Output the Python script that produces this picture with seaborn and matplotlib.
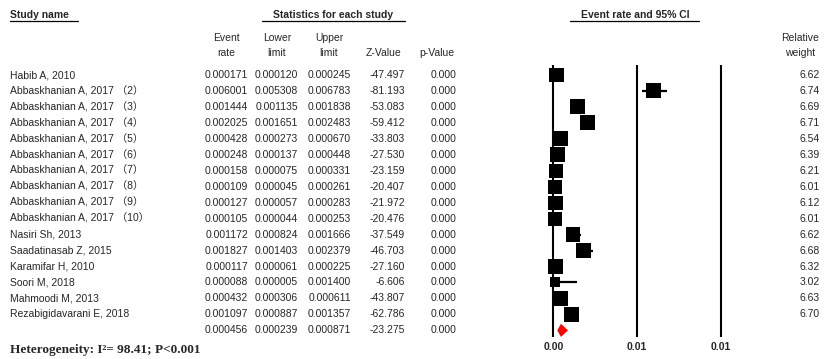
import matplotlib
matplotlib.use("Agg")
import matplotlib.pyplot as plt
import matplotlib.transforms as mtransforms
import pandas as pd
import seaborn as sns

# ---- study-level data ----
studies = [
    "Habib A, 2010",
    "Abbaskhanian A, 2017 （2）",
    "Abbaskhanian A, 2017 （3）",
    "Abbaskhanian A, 2017 （4）",
    "Abbaskhanian A, 2017 （5）",
    "Abbaskhanian A, 2017 （6）",
    "Abbaskhanian A, 2017 （7）",
    "Abbaskhanian A, 2017 （8）",
    "Abbaskhanian A, 2017 （9）",
    "Abbaskhanian A, 2017 （10）",
    "Nasiri Sh, 2013",
    "Saadatinasab Z, 2015",
    "Karamifar H, 2010",
    "Soori M, 2018",
    "Mahmoodi M, 2013",
    "Rezabigidavarani E, 2018",
]
event_rate = [0.000171, 0.006001, 0.001444, 0.002025, 0.000428, 0.000248,
              0.000158, 0.000109, 0.000127, 0.000105, 0.001172, 0.001827,
              0.000117, 0.000088, 0.000432, 0.001097]
lower_limit = [0.000120, 0.005308, 0.001135, 0.001651, 0.000273, 0.000137,
               0.000075, 0.000045, 0.000057, 0.000044, 0.000824, 0.001403,
               0.000061, 0.000005, 0.000306, 0.000887]
upper_limit = [0.000245, 0.006783, 0.001838, 0.002483, 0.000670, 0.000448,
               0.000331, 0.000261, 0.000283, 0.000253, 0.001666, 0.002379,
               0.000225, 0.001400, 0.000611, 0.001357]
z_value = [-47.497, -81.193, -53.083, -59.412, -33.803, -27.530, -23.159,
           -20.407, -21.972, -20.476, -37.549, -46.703, -27.160, -6.606,
           -43.807, -62.786]
p_value = [0.000] * 16
rel_weight = [6.62, 6.74, 6.69, 6.71, 6.54, 6.39, 6.21, 6.01, 6.12, 6.01,
              6.62, 6.68, 6.32, 3.02, 6.63, 6.70]

# pooled random-effects estimate
pooled_rate = 0.000456
pooled_lower = 0.000239
pooled_upper = 0.000871
pooled_z = -23.275
pooled_p = 0.000

axis_ticks = [0.0, 0.005, 0.01]
heterogeneity = "Heterogeneity: I²= 98.41; P<0.001"

df = pd.DataFrame({
    "study": studies, "rate": event_rate, "lower": lower_limit,
    "upper": upper_limit, "z": z_value, "p": p_value, "weight": rel_weight,
})
df["row"] = range(len(df))
pooled_row = len(df)

# ---- figure ----
W, H = 827, 359
sns.set_theme(style="white")
plt.rcParams["font.family"] = ["Liberation Sans", "Noto Sans CJK SC", "DejaVu Sans"]

fig = plt.figure(figsize=(W / 100, H / 100), dpi=100)
ax = fig.add_axes([0, 0, 1, 1])
ax.set_axis_off()

# x: effect scale; y: row index (row 0 at the top)
x0_px, px_per_unit = 553.3, 16770.0
ax.set_xlim(-x0_px / px_per_unit, (W - x0_px) / px_per_unit)
row0_px, row_step = 75.0, 15.96
ax.set_ylim((H - row0_px) / row_step, -row0_px / row_step)


def row_of(ypx):
    return (ypx - row0_px) / row_step


# reference lines
ax.vlines(axis_ticks, row_of(65), row_of(337), color="black", lw=1.5, zorder=1)

# confidence intervals
ax.hlines(df["row"], df["lower"], df["upper"], color="black", lw=1.6, zorder=2)

# weighted boxes: area proportional to relative weight
k = 17.3
sns.scatterplot(data=df, x="rate", y="row", size="weight",
                sizes=(k * min(rel_weight), k * max(rel_weight)),
                marker="s", color="black", linewidth=0, legend=False,
                ax=ax, zorder=3)

# pooled diamond
half_h = 0.41
ax.fill([pooled_lower, pooled_rate, pooled_upper, pooled_rate],
        [pooled_row, pooled_row - half_h, pooled_row, pooled_row + half_h],
        color="#ff0000", lw=0, zorder=4)

# axis labels below the reference lines
for t in axis_ticks:
    ax.text(t, row_of(347), f"{t:.2f}", ha="center", va="center",
            fontsize=7.5, fontweight="bold")

# ---- table columns ----
tr = mtransforms.blended_transform_factory(fig.transFigure, ax.transData)
fs = 7.5


def col_text(xpx, row, s, ha="right", **kw):
    ax.text(xpx / W, row, s, ha=ha, va="center", fontsize=fs,
            transform=tr, **kw)


for _, r in df.iterrows():
    col_text(10, r["row"], r["study"], ha="left")
    col_text(248, r["row"], f"{r['rate']:.6f}")
    col_text(298, r["row"], f"{r['lower']:.6f}")
    col_text(351, r["row"], f"{r['upper']:.6f}")
    col_text(405, r["row"], f"{r['z']:.3f}")
    col_text(456, r["row"], f"{r['p']:.3f}")
    col_text(820, r["row"], f"{r['weight']:.2f}")

col_text(248, pooled_row, f"{pooled_rate:.6f}")
col_text(298, pooled_row, f"{pooled_lower:.6f}")
col_text(351, pooled_row, f"{pooled_upper:.6f}")
col_text(405, pooled_row, f"{pooled_z:.3f}")
col_text(456, pooled_row, f"{pooled_p:.3f}")

# column headers
hdr_top, hdr_bot = row_of(38), row_of(53)
col_text(226, hdr_top, "Event", ha="center")
col_text(226, hdr_bot, "rate", ha="center")
col_text(277, hdr_top, "Lower", ha="center")
col_text(277, hdr_bot, "limit", ha="center")
col_text(329, hdr_top, "Upper", ha="center")
col_text(329, hdr_bot, "limit", ha="center")
col_text(383, hdr_bot, "Z-Value", ha="center")
col_text(437, hdr_bot, "p-Value", ha="center")
col_text(800, hdr_top, "Relative", ha="center")
col_text(800, hdr_bot, "weight", ha="center")

# group headers with underlines
ttl = row_of(15)
uline = row_of(21)
col_text(10, ttl, "Study name", ha="left", fontweight="bold")
ax.plot([10 / W, 78 / W], [uline, uline], color="black", lw=0.9, transform=tr)
col_text(333.5, ttl, "Statistics for each study", ha="center", fontweight="bold")
ax.plot([262 / W, 405 / W], [uline, uline], color="black", lw=0.9, transform=tr)
col_text(635, ttl, "Event rate and 95% CI", ha="center", fontweight="bold")
ax.plot([570 / W, 699 / W], [uline, uline], color="black", lw=0.9, transform=tr)

# heterogeneity note
ax.text(10 / W, row_of(350), heterogeneity, ha="left", va="center",
        fontsize=9.5, fontweight="bold", family=["Liberation Serif", "DejaVu Serif"],
        transform=tr)

fig.savefig("out.png", dpi=100)
